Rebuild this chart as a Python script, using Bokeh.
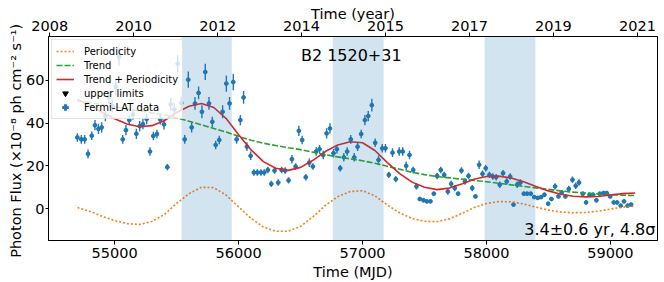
import numpy as np
from bokeh.plotting import figure
from bokeh.models import (Range1d, LinearAxis, FixedTicker, BoxAnnotation, Label,
                          Legend, LegendItem)
from bokeh.embed import file_html
from bokeh.resources import INLINE

# ---------------- data ----------------
mjd = [54699, 54731, 54758, 54785, 54815, 54841, 54869, 54895, 54925, 54954,
       54980, 55008, 55035, 55065, 55091, 55118, 55147, 55175, 55202, 55228,
       55258, 55285, 55312, 55341, 55368, 55398, 55425, 55452, 55481, 55508,
       55537, 55565, 55594, 55621, 55648, 55677, 55704, 55731, 55761, 55788,
       55815, 55844, 55871, 55901, 55927, 55957, 55984, 56014, 56040, 56067,
       56097, 56123, 56151, 56180, 56207, 56236, 56264, 56290, 56320, 56347,
       56376, 56403, 56430, 56460, 56486, 56513, 56542, 56570, 56599, 56626,
       56653, 56683, 56710, 56737, 56766, 56793, 56820, 56849, 56876, 56905,
       56933, 56960, 56989, 57019, 57046, 57075, 57102, 57129, 57159, 57185,
       57212, 57242, 57268, 57296, 57324, 57352, 57379, 57409, 57435, 57462,
       57492, 57519, 57548, 57575, 57602, 57631, 57659, 57688, 57715, 57744,
       57771, 57798, 57827, 57855, 57885, 57911, 57941, 57968, 57994, 58024,
       58051, 58078, 58107, 58134, 58163, 58191, 58218, 58248, 58274, 58301,
       58328, 58357, 58385, 58414, 58441, 58468, 58498, 58524, 58554, 58581,
       58607, 58637, 58664, 58694, 58720, 58747, 58777, 58804, 58831, 58861,
       58887, 58914, 58944, 58970, 58998, 59027, 59054, 59083, 59110, 59139,
       59167]

flux = [33.3, 32.4, 32.4, 25.6, 34.1, 39.0, 37.3, 38.0, 43.3, 52.2,
        48.0, 57.0, 71.0, 32.4, 36.7, 41.4, 44.0, 35.0, 38.6, 39.5,
        41.9, 26.7, 34.0, 34.9, 41.7, 39.4, 19.4, 48.8, 46.4, 67.8,
        49.4, 32.4, 60.3, 38.0, 49.2, 54.1, 45.3, 63.9, 49.2, 40.6,
        29.8, 32.1, 45.3, 58.5, 49.2, 59.2, 32.4, 41.4, 52.0, 29.0,
        24.7, 16.9, 16.9, 16.9, 16.9, 18.1, 11.6, 17.8, 12.2, 18.1,
        17.8, 13.2, 23.1, 19.7, 36.4, 32.1, 14.7, 21.5, 19.7, 26.7,
        27.8, 25.1, 35.2, 37.5, 25.9, 27.8, 18.9, 24.0, 26.7, 32.4,
        24.0, 29.0, 34.9, 41.4, 43.3, 48.4, 30.8, 22.8, 28.2, 28.2,
        15.8, 26.2, 13.8, 26.7, 26.7, 20.0, 25.1, 18.1, 10.4, 4.5,
        3.9, 3.4, 3.4, 7.0, 15.3, 18.1, 15.8, 8.0, 11.6, 9.6,
        7.0, 17.8, 12.7, 15.3, 9.6, 5.7, 20.5, 16.3, 18.9, 15.8,
        15.0, 14.7, 11.2, 16.6, 12.7, 15.0, 1.9, 11.2, 12.2, 7.0,
        7.0, 7.0, 5.4, 5.0, 5.4, 6.5, 2.3, 4.5, 10.4, 5.7,
        7.6, 5.7, 9.2, 13.5, 10.7, 12.2, 7.0, 2.9, 6.5, 6.5,
        3.9, 7.0, 7.3, 7.3, 5.7, 2.9, 2.9, 1.4, 3.4, 1.4,
        1.9]

flux_err = [2.0, 2.0, 2.0, 2.0, 2.0, 2.4, 2.4, 2.4, 2.4, 3.0,
            3.0, 3.8, 4.2, 2.0, 2.4, 2.4, 2.4, 2.4, 2.4, 2.4,
            2.4, 2.0, 2.0, 2.0, 2.4, 2.4, 1.5, 3.0, 3.0, 4.2,
            3.0, 2.0, 3.8, 2.4, 3.0, 3.0, 3.0, 3.8, 3.0, 2.4,
            2.0, 2.0, 3.0, 3.8, 3.0, 3.8, 2.0, 2.4, 3.0, 2.0,
            2.0, 1.5, 1.5, 1.5, 1.5, 1.5, 1.5, 1.5, 1.5, 1.5,
            1.5, 1.5, 2.0, 1.5, 2.4, 2.0, 1.5, 2.0, 1.5, 2.0,
            2.0, 2.0, 2.4, 2.4, 2.0, 2.0, 1.5, 2.0, 2.0, 2.0,
            2.0, 2.0, 2.0, 2.4, 2.4, 3.0, 2.0, 2.0, 2.0, 2.0,
            1.5, 2.0, 1.5, 2.0, 2.0, 2.0, 2.0, 1.5, 1.5, 0.9,
            0.9, 0.9, 0.9, 0.9, 1.5, 1.5, 1.5, 1.5, 1.5, 1.5,
            0.9, 1.5, 1.5, 1.5, 1.5, 0.9, 2.0, 1.5, 1.5, 1.5,
            1.5, 1.5, 1.5, 1.5, 1.5, 1.5, 0.9, 1.5, 1.5, 0.9,
            0.9, 0.9, 0.9, 0.9, 0.9, 0.9, 0.9, 0.9, 1.5, 0.9,
            0.9, 0.9, 1.5, 1.5, 1.5, 1.5, 0.9, 0.9, 0.9, 0.9,
            0.9, 0.9, 0.9, 0.9, 0.9, 0.9, 0.9, 0.9, 0.9, 0.9,
            0.9]

bin_half_width = 14  # days (horizontal error bar)

model_mjd = [54700, 54800, 54900, 55000, 55100, 55200, 55300, 55400, 55500, 55600,
             55700, 55800, 55900, 56000, 56100, 56200, 56300, 56400, 56500, 56600,
             56700, 56800, 56900, 57000, 57100, 57200, 57300, 57400, 57500, 57600,
             57700, 57800, 57900, 58000, 58100, 58200, 58300, 58400, 58500, 58600,
             58700, 58800, 58900, 59000, 59100, 59200]

periodicity = [0.5, -1.3, -3.6, -5.6, -7.0, -7.4, -6.0, -2.8, 2.5, 7.0,
               10.0, 9.8, 6.3, 0.8, -4.5, -8.6, -10.6, -10.6, -8.3, -3.8,
               1.5, 5.6, 8.0, 8.4, 6.0, 1.7, -2.0, -4.6, -5.9, -6.1,
               -4.8, -2.3, 0.5, 2.4, 3.3, 3.2, 2.2, 0.7, -0.7, -1.6,
               -1.9, -1.8, -1.2, -0.2, 0.7, 1.2]

trend = [50.5, 49.6, 48.6, 47.6, 46.6, 45.7, 44.8, 43.9, 42.5, 40.9,
         39.2, 37.5, 35.8, 33.8, 32.0, 30.6, 29.5, 28.5, 27.6, 26.4,
         25.2, 24.2, 23.3, 22.4, 21.2, 19.8, 18.4, 17.0, 15.9, 15.0,
         14.4, 13.8, 13.2, 12.6, 11.9, 11.1, 10.4, 9.7, 9.0, 8.3,
         7.7, 7.3, 6.9, 6.6, 6.3, 6.1]

band_start = [55540, 56760, 57985]
band_end = [55945, 57170, 58395]

mjd_ticks = [55000, 56000, 57000, 58000, 59000]
flux_ticks = [0, 20, 40, 60]
year_tick_mjd = [54476, 55153, 55831, 56508, 57185, 57863, 58540, 59218]
year_labels = ["2008", "2010", "2012", "2014", "2015", "2017", "2019", "2021"]

# ---------------- derived ----------------
m = np.array(mjd, dtype=float)
f = np.array(flux)
e = np.array(flux_err)
trend_plus = (np.array(trend) + np.array(periodicity)).tolist()

C0, C1, C2, C3 = "#1f77b4", "#ff7f0e", "#2ca02c", "#d62728"
FONT = "DejaVu Sans"

p = figure(width=664, height=282, x_range=Range1d(54466, 59380), y_range=Range1d(-14.9, 80.5),
           output_backend="svg", toolbar_location=None,
           min_border_left=48, min_border_right=7, min_border_top=36, min_border_bottom=41)
p.xgrid.visible = False
p.ygrid.visible = False
p.outline_line_color = "black"
p.outline_line_alpha = 1.0
p.outline_line_width = 1
p.background_fill_color = "white"
p.border_fill_color = "white"

for s, t in zip(band_start, band_end):
    p.add_layout(BoxAnnotation(left=s, right=t, fill_color=C0, fill_alpha=0.2, line_alpha=0))

# data
p.segment(x0=m, y0=f - e, x1=m, y1=f + e, line_color=C0, line_width=1.4)
p.segment(x0=m - bin_half_width, y0=f, x1=m + bin_half_width, y1=f, line_color=C0, line_width=1.4)
p.scatter(x=m, y=f, size=3.8, marker="circle", fill_color=C0, line_color=C0)

r_per = p.line(model_mjd, periodicity, line_color=C1, line_dash="2 2", line_width=1.6)
r_trend = p.line(model_mjd, trend, line_color=C2, line_dash="6 2", line_width=1.6)
r_tp = p.line(model_mjd, trend_plus, line_color=C3, line_width=1.6)

nan = [float("nan")]
r_ul1 = p.scatter(x=nan, y=nan, marker="inverted_triangle", size=6, fill_color="black", line_color="black")
r_d1 = p.scatter(x=nan, y=nan, marker="plus", size=6, fill_color=C0, line_color=C0)

legend = Legend(items=[
    LegendItem(label="Periodicity", renderers=[r_per]),
    LegendItem(label="Trend", renderers=[r_trend]),
    LegendItem(label="Trend + Periodicity", renderers=[r_tp]),
    LegendItem(label="upper limits", renderers=[r_ul1]),
    LegendItem(label="Fermi-LAT data", renderers=[r_d1]),
], location="top_left")
legend.margin = 3
legend.padding = 4
legend.spacing = 0
legend.label_height = 14
legend.glyph_height = 14
legend.glyph_width = 18
legend.label_standoff = 10
legend.label_text_font = FONT
legend.label_text_font_size = "10px"
legend.label_text_color = "black"
legend.border_line_color = "#cccccc"
legend.border_line_width = 1
legend.background_fill_alpha = 0.8
p.add_layout(legend)

# axes
def style_axis(ax):
    ax.axis_line_color = "black"
    ax.major_tick_line_color = "black"
    ax.minor_tick_line_color = None
    ax.major_tick_in = 0
    ax.major_tick_out = 4
    ax.major_label_standoff = 3
    ax.major_label_text_font = FONT
    ax.major_label_text_font_size = "14.5px"
    ax.major_label_text_color = "black"
    ax.axis_label_text_font = FONT
    ax.axis_label_text_font_size = "14.5px"
    ax.axis_label_text_font_style = "normal"
    ax.axis_label_text_color = "black"
    ax.axis_label_standoff = 3

p.xaxis.ticker = FixedTicker(ticks=mjd_ticks)
p.xaxis.axis_label = "Time (MJD)"
p.yaxis.ticker = FixedTicker(ticks=flux_ticks)
p.yaxis.axis_label = "Photon Flux  (\u00d710\u207b\u2078 ph cm\u207b\u00b2 s\u207b\u00b9)"
for ax in p.xaxis + p.yaxis:
    style_axis(ax)
p.yaxis.major_tick_out = 3
p.yaxis.major_label_standoff = 1
p.yaxis.axis_label_standoff = -1
p.yaxis.axis_label_text_font_size = "14.5px"

top = LinearAxis(ticker=FixedTicker(ticks=year_tick_mjd),
                 major_label_overrides={t: l for t, l in zip(year_tick_mjd, year_labels)},
                 axis_label="Time (year)")
style_axis(top)
top.major_label_standoff = 2
top.axis_label_standoff = -4
p.add_layout(top, "above")

p.add_layout(Label(x=56909, y=71.6, text="B2 1520+31", text_align="center", text_baseline="alphabetic",
                   text_font=FONT, text_font_size="16px", text_color="black"))
p.add_layout(Label(x=59363, y=-14.2, text="3.4\u00b10.6 yr, 4.8\u03c3", text_align="right",
                   text_baseline="bottom", text_font=FONT, text_font_size="16px", text_color="black"))

open("out.html", "w").write(file_html(p, INLINE))
